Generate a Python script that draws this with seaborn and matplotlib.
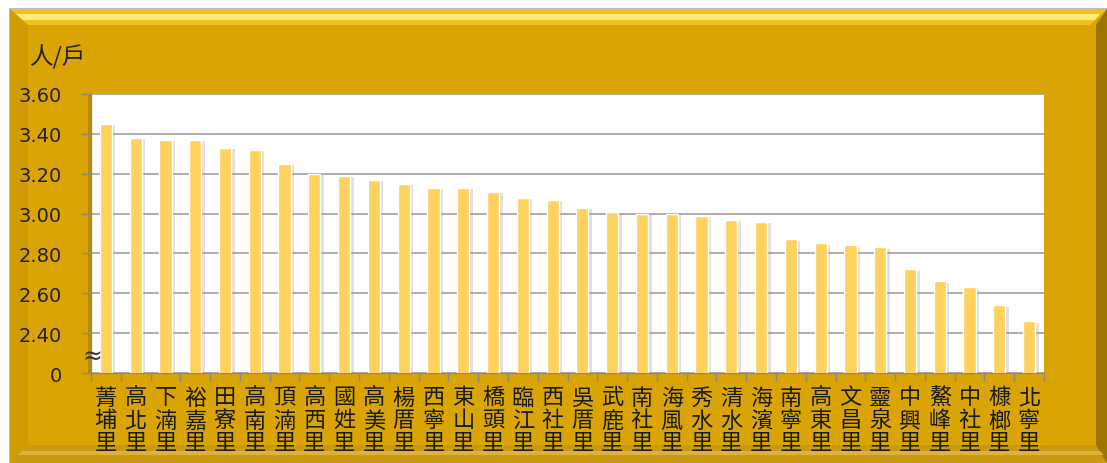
"""
Average persons per household by village (人/戶), bar chart with broken y axis.
"""
import numpy as np
import pandas as pd
import matplotlib
matplotlib.use('Agg')
import matplotlib.pyplot as plt
import matplotlib.patheffects as pe
from matplotlib.patches import Polygon
import seaborn as sns

villages = ['菁埔里', '高北里', '下湳里', '裕嘉里', '田寮里', '高南里', '頂湳里', '高西里',
            '國姓里', '高美里', '楊厝里', '西寧里', '東山里', '橋頭里', '臨江里', '西社里',
            '吳厝里', '武鹿里', '南社里', '海風里', '秀水里', '清水里', '海濱里', '南寧里',
            '高東里', '文昌里', '靈泉里', '中興里', '鰲峰里', '中社里', '槺榔里', '北寧里']
persons_per_household = [3.45, 3.38, 3.37, 3.37, 3.33, 3.32, 3.25, 3.20,
                         3.19, 3.17, 3.15, 3.13, 3.13, 3.11, 3.08, 3.07,
                         3.03, 3.01, 3.00, 3.00, 2.99, 2.97, 2.96, 2.87,
                         2.85, 2.84, 2.83, 2.72, 2.66, 2.63, 2.54, 2.46]
ytick_values = [2.2, 2.4, 2.6, 2.8, 3.0, 3.2, 3.4, 3.6]
ytick_labels = ['0', '2.40', '2.60', '2.80', '3.00', '3.20', '3.40', '3.60']
unit_label = '人/戶'

GOLD = '#D9A404'
BAR = '#FFD25E'

sns.set_theme(style='white')
plt.rcParams['font.family'] = ['Noto Sans CJK TC', 'DejaVu Sans']

W, H = 1107, 464
fig = plt.figure(figsize=(W / 100, H / 100), dpi=100)
fig.patch.set_facecolor('white')


def px(x, y):
    return (x / W, 1 - y / H)


def frame_piece(points, color):
    fig.patches.append(Polygon([px(*p) for p in points], closed=True, transform=fig.transFigure,
                               facecolor=color, edgecolor='none', zorder=-10))


# gold frame with simple bevel
frame_piece([(9, 9), (1107, 9), (1107, 464), (9, 464)], '#BDBDBD')
frame_piece([(10, 10), (1107, 10), (1107, 464), (10, 464)], GOLD)
frame_piece([(10, 10), (1107, 10), (1090, 26), (28, 26)], '#F0C21E')
frame_piece([(16, 15), (1100, 15), (1095, 21), (22, 21)], '#FFEB7A')
frame_piece([(10, 10), (28, 26), (28, 446), (10, 464)], '#CF9C03')
frame_piece([(1107, 10), (1107, 464), (1096, 450), (1096, 26)], '#9C7402')
frame_piece([(28, 446), (1096, 446), (1107, 464), (10, 464)], '#C99A12')
frame_piece([(22, 452), (1100, 452), (1104, 456), (18, 456)], '#DDB23A')
# soft shadow of the plot area
frame_piece([(88, 95), (91, 95), (91, 374), (88, 374)], '#B88B03')

ax = fig.add_axes([91 / W, 1 - 374 / H, (1044 - 91) / W, (374 - 95) / H])
ax.set_facecolor('white')

df = pd.DataFrame({'village': villages, 'value': persons_per_household})
sns.barplot(data=df, x='village', y='value', color=BAR, width=0.41,
            saturation=1, ax=ax, zorder=3)
for bar in ax.patches:
    bar.set_path_effects([pe.SimplePatchShadow(offset=(2.5, -1), shadow_rgbFace='#9a9a9a', alpha=0.3),
                          pe.Normal()])

ax.set_ylim(2.2, 3.6)
ax.set_xlim(-0.5, len(villages) - 0.5)
ax.set_yticks(ytick_values)
ax.set_yticklabels(ytick_labels, family='DejaVu Sans', fontsize=14, color='#222222')
ax.yaxis.grid(True, color='#A0A0A0', linewidth=1.2, zorder=0)
ax.set_axisbelow(True)

ax.set_xticks(range(len(villages)))
ax.set_xticklabels(['\n'.join(v) for v in villages], fontsize=16, color='#1a1a1a',
                   linespacing=1.0)
ax.set_xticks(np.arange(-0.5, len(villages)), minor=True)
ax.tick_params(axis='x', which='major', length=0, pad=9)
ax.tick_params(axis='x', which='minor', length=6, color='#8a8a8a', width=1, direction='out', bottom=True)
ax.tick_params(axis='y', which='major', length=7, color='#8a8a8a', width=1, direction='out', left=True)
ax.yaxis.set_tick_params(pad=14)
ax.set_xlabel('')
ax.set_ylabel('')

for side in ['top', 'right']:
    ax.spines[side].set_visible(False)
for side in ['left', 'bottom']:
    ax.spines[side].set_color('#8a8a8a')
    ax.spines[side].set_linewidth(1)

# axis break mark
ax.text(-0.45, 2.285, '≈', fontsize=17, color='#333333', ha='center', va='center',
        family='DejaVu Sans', zorder=5, clip_on=False)

fig.text(30 / W, 1 - 57 / H, unit_label, fontsize=17, color='#222222', va='center', ha='left')

fig.savefig('out.png', dpi=100)
